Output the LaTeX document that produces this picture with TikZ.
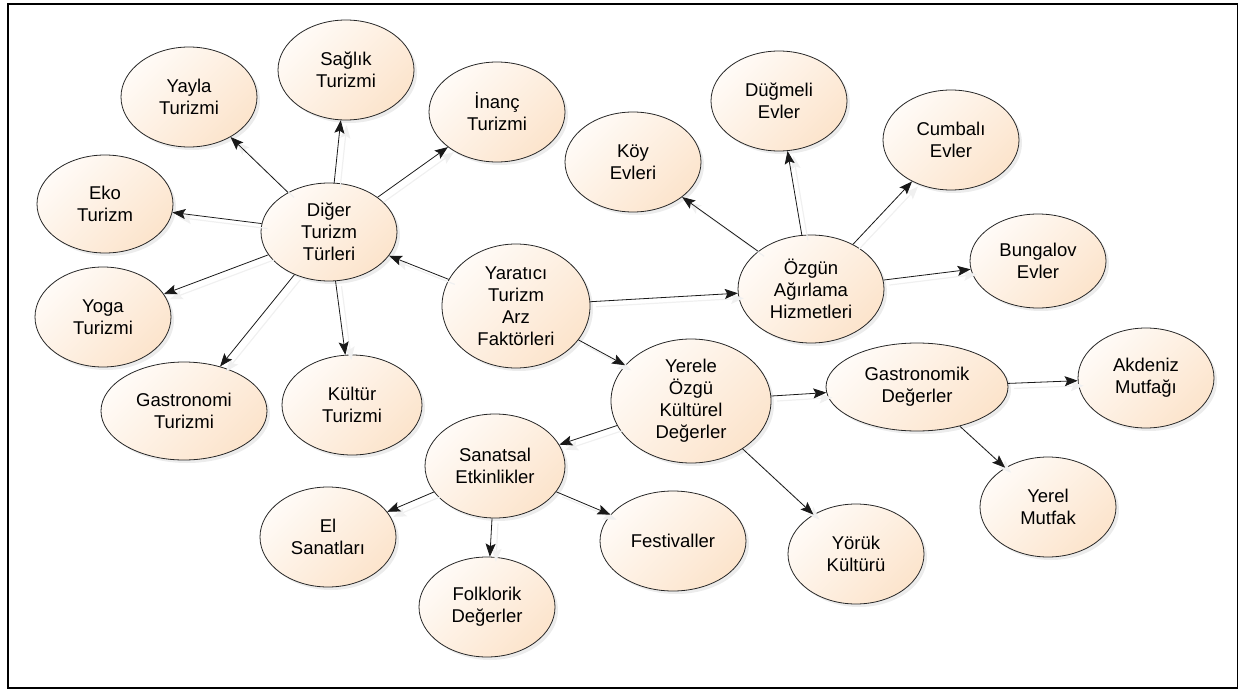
\documentclass[tikz,border=0pt]{standalone}
\usepackage{fontspec}
\setmainfont{Liberation Sans}
\usetikzlibrary{shapes.geometric}
\usetikzlibrary{arrows.meta}
\usetikzlibrary{shadows}

\definecolor{creme}{HTML}{FFFBF7}
\definecolor{peche}{HTML}{FCE4CC}

\tikzstyle{bulle}  =[ellipse, draw=black!85, line width=0.8pt, inner sep=0pt,
                     minimum width=136pt, minimum height=100pt,
                     top color=creme, bottom color=peche, shading angle=45,
                     drop shadow={shadow xshift=3pt, shadow yshift=-3pt, opacity=.12, fill=black!60},
                     font=\fontsize{18.5}{22}\selectfont, align=center]
\tikzstyle{fleche} =[line width=0.8pt, draw=black!90, -{Stealth[length=13pt,width=10pt,inset=2.5pt]},
                     preaction={draw=black!6, line width=1.2pt, transform canvas={shift={(6pt,-5pt)}}}]

\begin{document}
\begin{tikzpicture}[x=1pt,y=-1pt]

\useasboundingbox (0,0) rectangle (1242,690);
\draw[line width=1.6pt] (8,4) rectangle (1237.5,688);

%%%%%%%%%%%%%%%%%%%%%%%%
%Noeud central
%%%%%%%%%%%%%%%%%%%%%%%%
\node[bulle, minimum width=148pt, minimum height=124pt] (yaratici) at (516,306) {Yaratıcı\\Turizm\\Arz\\Faktörleri};

%%%%%%%%%%%%%%%%%%%%%%%%
%Branche gauche : autres types de tourisme
%%%%%%%%%%%%%%%%%%%%%%%%
\node[bulle, minimum height=98pt] (diger) at (329,232) {Diğer\\Turizm\\Türleri};
\node[bulle] (yayla) at (189,97) {Yayla\\Turizmi};
\node[bulle] (saglik) at (346,70) {Sağlık\\Turizmi};
\node[bulle] (inanc) at (497,112) {İnanç\\Turizmi};
\node[bulle, minimum height=98pt] (eko) at (105,204) {Eko\\Turizm};
\node[bulle] (yoga) at (103,317) {Yoga\\Turizmi};
\node[bulle, minimum width=166pt, minimum height=98pt] (gastroT) at (184,411) {Gastronomi\\Turizmi};
\node[bulle, minimum width=140pt] (kultur) at (352,405) {Kültür\\Turizmi};

%%%%%%%%%%%%%%%%%%%%%%%%
%Branche droite : hébergement
%%%%%%%%%%%%%%%%%%%%%%%%
\node[bulle, minimum width=146pt, minimum height=108pt] (ozgun) at (811,289) {Özgün\\Ağırlama\\Hizmetleri};
\node[bulle] (koy) at (633,162) {Köy\\Evleri};
\node[bulle] (dugmeli) at (779,101) {Düğmeli\\Evler};
\node[bulle] (cumbali) at (951,140) {Cumbalı\\Evler};
\node[bulle, minimum height=94pt] (bungalov) at (1038,261) {Bungalov\\Evler};

%%%%%%%%%%%%%%%%%%%%%%%%
%Branche basse : valeurs culturelles locales
%%%%%%%%%%%%%%%%%%%%%%%%
\node[bulle, minimum width=160pt, minimum height=124pt] (yerele) at (691,401) {Yerele\\Özgü\\Kültürel\\Değerler};
\node[bulle, minimum width=182pt, minimum height=88pt] (gastroD) at (917,387) {Gastronomik\\Değerler};
\node[bulle] (akdeniz) at (1146,378) {Akdeniz\\Mutfağı};
\node[bulle] (yerelM) at (1048,507) {Yerel\\Mutfak};
\node[bulle] (yoruk) at (856,554) {Yörük\\Kültürü};
\node[bulle, minimum width=140pt, minimum height=104pt] (sanatsal) at (495,466) {Sanatsal\\Etkinlikler};
\node[bulle] (el) at (328,537) {El\\Sanatları};
\node[bulle] (folklor) at (487,607) {Folklorik\\Değerler};
\node[bulle, minimum width=146pt] (festival) at (673,541) {Festivaller};

%%%%%%%%%%%%%%%%%%%%%%%%
%Flèches
%%%%%%%%%%%%%%%%%%%%%%%%
\draw[fleche] (yaratici) -- (diger);
\draw[fleche] (yaratici) -- (ozgun);
\draw[fleche] (yaratici) -- (yerele);

\foreach \cible in {yayla,saglik,inanc,eko,yoga,gastroT,kultur}
  {\draw[fleche] (diger) -- (\cible);}
\foreach \cible in {koy,dugmeli,cumbali,bungalov}
  {\draw[fleche] (ozgun) -- (\cible);}
\foreach \cible in {sanatsal,gastroD,yoruk}
  {\draw[fleche] (yerele) -- (\cible);}
\foreach \cible in {akdeniz,yerelM}
  {\draw[fleche] (gastroD) -- (\cible);}
\foreach \cible in {el,folklor,festival}
  {\draw[fleche] (sanatsal) -- (\cible);}

\end{tikzpicture}
\end{document}
